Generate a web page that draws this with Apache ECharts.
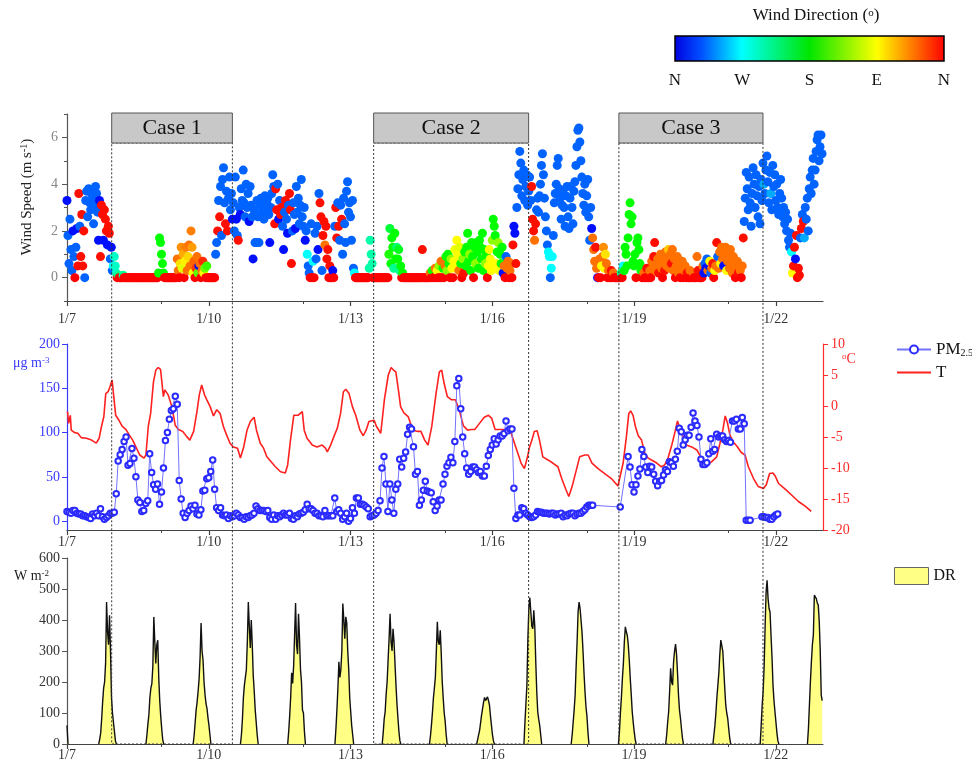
<!DOCTYPE html>
<html><head><meta charset="utf-8">
<script src="https://cdn.jsdelivr.net/npm/echarts@6/dist/echarts.min.js"></script>
<style>html,body{margin:0;padding:0;background:#fff}#c{width:972px;height:764px}</style>
</head><body><div id="c"></div>
<script>
const serif = 'Liberation Serif';

// ---- axis ticks / labels ----
const dateTicks = [0, 3, 6, 9, 12, 15];
const dateLabels = ['1/7', '1/10', '1/13', '1/16', '1/19', '1/22'];
const minorDateTicks = [2, 5, 8, 11, 14];
const directionLabels = ['N', 'W', 'S', 'E', 'N'];

// ---- episodes (days since 1/7 00:00) ----
const caseNames = ['Case 1', 'Case 2', 'Case 3'];
const caseStart = [0.946, 6.49, 11.68];
const caseEnd = [3.50, 9.77, 14.73];

// ---- wind: 30-min samples from 1/7 00:00 (speed m/s, direction deg) ----
const windSpeed = [
// 1/7
3.3,1.8,0.6,2.5,1.2,0.3,2.0,0.9,0,1.3,2.1,0.5,3.6,2.2,0.9,2.7,0.5,2.0,0,3.3,3.7,2.6,3.8,3.2,2.9,3.6,3.4,2.3,3.1,3.9,3.6,2.8,1.6,3.3,0.9,3.1,2.7,1.6,2.9,2.5,2.0,1.4,2.2,1.9,0.8,1.3,0.3,0.5,
// 1/8
0.9,0.5,0.2,0,0.1,0,0,0,0,0.1,0,0,0,0,0,0,0,0,0,0,0,0,0,0,0,0,0,0,0,0,0,0,0,0,0,0,0,0,0,0,0,0,0,0,0,0.2,1.7,1.5,
// 1/9
1.0,0.6,0.2,0,0,0,0,0,0,0,0,0,0,0,0,0,0.8,0.3,0,0.6,1.3,0.4,1.0,0,0.7,1.3,0.3,0.9,1.4,0.5,2.0,1.3,0.2,0.7,0,0.4,0.9,0.2,0.5,0.6,0,0.3,0.7,0.2,0.4,0,0.5,0,
// 1/10
0,0,0,0,0,0,0,1.0,1.5,2.0,3.3,2.6,3.9,1.8,4.2,4.7,3.2,2.3,3.7,2.0,3.4,4.3,2.9,3.6,2.5,3.2,2.0,4.3,2.5,1.8,1.6,3.0,2.7,3.8,3.3,4.6,3.2,2.6,4.0,3.0,3.6,2.4,3.9,3.1,2.6,0.8,2.9,1.5,
// 1/11
1.5,3.3,2.6,1.5,3.1,3.4,2.8,3.3,2.5,3.5,2.9,3.2,3.4,2.7,1.5,3.0,3.6,4.4,3.9,2.3,3.8,2.9,4.0,2.5,3.3,2.7,3.0,2.2,1.2,2.8,3.3,2.5,1.9,3.1,3.6,2.9,0.6,2.0,3.2,2.7,2.1,3.9,2.8,3.4,2.3,3.1,4.2,2.6,
// 1/12
2.2,3.0,1.6,2.0,1.0,0.5,0.2,0,2.3,0,0.7,0,1.9,0.8,2.2,1.2,3.6,3.2,2.6,0.3,1.8,2.4,1.4,2.2,0.8,1.2,0,0.5,0,0,0.3,0,2.2,3.0,1.7,3.2,2.2,1.6,3.1,2.5,1.0,3.4,2.3,1.5,3.7,4.1,2.8,3.2,
// 1/13
2.6,1.6,3.3,0.4,0.2,0,0,0,0,0,0,0,0,0,0,0,0,0,0,0.4,1.6,1.0,0.6,0,0,0,0,0,0,0,0,0,0,0,0,0,0,0,0,1.0,2.1,0.6,1.7,1.3,0.4,1.9,0.8,1.3,
// 1/14
0.8,1.2,0.3,0.5,0,0.2,0,0,0,0,0,0,0,0,0,0,0,0,0,0,0,0,0,0,0,1.2,0,0,0,0,0,0,0,0.2,0,0.3,0,0,0.4,0,0.3,0,0.5,0,0.7,0,0.4,0,
// 1/15
0.5,0.9,0.3,1.0,0.6,0,0.8,0.4,0,0.7,1.2,0.5,1.6,1.0,0.3,1.3,0.6,0,0.8,0.2,1.1,0.5,1.3,1.9,0.7,1.0,0.3,1.5,0.9,0,1.3,0.6,1.5,1.1,0.4,1.6,1.3,0.8,1.9,0.3,1.2,0.6,1.0,0,0.5,1.2,0.8,0.3,
// 1/16
1.6,2.5,2.2,1.8,0.6,1.1,1.5,0.3,1.0,0.6,1.3,0.2,0.5,0,0.9,0.4,0.7,0,0.3,0.6,0,1.4,2.2,1.9,0.6,3.0,3.8,4.4,5.4,4.9,3.5,4.2,4.6,3.3,3.9,4.4,3.1,3.7,4.3,3.3,3.9,2.5,2.0,1.6,2.3,2.9,3.4,2.8,
// 1/17
3.5,4.0,4.8,5.3,4.4,3.4,2.6,2.0,1.4,1.1,0.9,0,0.4,0.9,1.8,3.2,3.6,4.0,4.8,5.1,3.8,3.4,2.5,3.1,3.6,3.0,2.2,3.5,3.9,2.6,2.1,3.4,3.9,3.0,2.3,3.7,4.1,4.8,5.6,6.3,6.4,5.8,5.0,4.3,3.6,3.1,4.0,2.8,
// 1/18
3.5,4.2,2.6,1.6,3.0,2.1,1.7,1.2,0.7,1.3,0.4,0,0,0.8,0,0.5,0.9,1.3,0.4,1.0,0.6,0,0.3,0,0,0.3,0,0.2,0,0,0,0,0,0,0,0.2,0,0.5,0.3,1.3,1.0,0.5,1.7,2.7,3.2,2.3,2.6,0.7,
// 1/19
0.5,1.0,0,1.5,1.7,1.2,0.6,0.3,0,0,0.2,0,0,0.4,0,0,0.3,0,0.7,0.4,0.9,1.5,0.3,0.5,0.8,0.2,0.6,1.0,0.4,0,0.7,0.3,1.1,0.5,0.8,1.2,0.4,1.0,0.6,1.2,0.3,0.8,0,0.5,0.9,0.2,0.6,0,
// 1/20
0.4,0.7,0,0.3,0.5,0,0.2,0,0,0.3,0,0,0.2,0,0,0,0.9,0.3,0,0,0,0,0.5,0.2,0.6,0.4,0.8,0.3,0.5,0.7,0.2,0.4,0.6,0,0.3,0.5,1.5,0.9,0.4,1.1,0.6,1.3,0.8,0.5,1.0,1.3,0.3,0.7,
// 1/21
1.0,0.4,1.2,0.6,0.2,0.9,0.5,0,0.3,0.7,0.2,0.5,0.3,0,0.5,1.7,2.4,3.4,4.5,3.8,2.9,4.3,3.2,2.2,3.6,4.7,4.0,3.0,4.4,3.5,2.6,3.9,2.3,4.2,3.3,4.9,4.0,3.6,4.6,5.2,4.1,3.2,4.5,3.6,2.9,4.8,3.9,4.4,
// 1/22
3.3,4.0,3.0,2.7,3.6,4.2,3.4,2.6,3.0,2.3,2.8,2.0,2.5,1.6,1.3,1.9,1.1,0.2,0.5,1.3,0.8,1.8,0,0.4,0.1,1.7,2.1,2.7,2.4,1.7,3.0,2.5,3.4,2.0,3.8,4.3,3.6,4.6,5.1,4.0,4.6,5.4,5.9,6.1,5.0,5.6,6.1,5.3
];
const windDir = [
// 1/7
355,325,325,325,325,325,355,325,0,325,355,5,5,325,5,5,5,5,325,325,325,325,325,325,325,325,325,325,325,325,325,325,355,355,5,5,5,355,5,5,5,355,5,5,325,355,325,270,
// 1/8
250,250,250,0,230,0,0,0,0,230,0,0,0,0,0,0,0,0,0,0,0,0,0,0,0,0,0,0,0,0,0,0,0,0,0,0,0,0,0,0,0,0,0,0,0,180,180,180,
// 1/9
180,180,180,0,0,0,0,0,0,0,0,0,0,0,0,0,40,40,0,80,50,100,60,0,85,45,40,75,40,40,45,55,90,35,0,20,40,150,355,40,0,40,15,90,140,0,160,0,
// 1/10
0,0,0,0,0,0,0,325,325,5,325,5,325,325,325,325,325,5,325,5,325,325,325,325,355,325,325,325,355,325,5,325,355,325,325,325,325,325,325,325,325,355,325,325,325,355,325,325,
// 1/11
325,325,325,325,325,325,325,325,325,325,325,325,325,325,355,325,325,325,325,5,5,5,325,355,325,5,5,325,355,325,5,325,355,325,5,5,5,325,325,325,355,325,325,325,325,325,325,325,
// 1/12
325,325,355,325,270,325,325,0,325,0,270,0,325,325,325,355,325,5,5,325,5,5,40,5,5,5,0,5,0,0,355,0,325,5,5,325,5,325,325,5,325,325,325,325,325,325,325,325,
// 1/13
325,325,325,325,270,0,0,0,0,0,0,0,0,0,0,0,0,0,0,240,240,240,240,0,0,0,0,0,0,0,0,0,0,0,0,0,0,0,0,170,200,180,180,180,230,180,180,220,
// 1/14
180,190,230,180,0,180,0,0,0,0,0,0,0,0,0,0,0,0,0,0,0,0,0,0,0,5,0,0,0,0,0,0,0,40,0,180,0,0,40,0,90,0,130,0,40,0,180,0,
// 1/15
40,180,130,180,180,0,130,90,0,90,95,90,90,90,40,100,180,0,130,5,180,180,180,180,180,130,180,180,180,0,180,130,180,180,180,180,180,180,180,180,180,130,180,0,90,90,90,90,
// 1/16
130,180,180,180,90,180,130,90,180,180,180,355,40,0,325,40,40,0,40,40,0,5,355,355,5,325,325,325,325,325,325,325,325,325,325,325,325,325,325,325,5,5,5,40,5,325,325,325,
// 1/17
325,325,325,325,325,325,325,325,325,270,270,325,270,270,325,325,325,325,325,325,325,325,325,325,325,325,325,325,325,325,325,325,325,325,325,325,325,325,325,325,325,325,325,325,325,325,325,325,
// 1/18
325,325,325,325,325,355,40,40,40,5,40,355,0,40,0,90,40,50,90,80,40,0,40,0,0,5,0,40,0,0,0,0,0,0,0,230,0,270,180,180,180,180,180,180,180,180,180,180,
// 1/19
180,180,0,180,180,180,180,180,0,0,40,0,0,5,0,0,40,0,40,40,5,5,40,40,40,5,40,40,40,0,40,5,40,40,40,70,40,40,5,40,40,40,0,40,40,40,40,0,
// 1/20
40,40,0,40,40,0,5,0,0,40,0,0,40,0,0,0,40,5,0,0,0,0,40,355,325,355,325,40,355,90,325,40,5,0,90,40,5,325,40,40,90,40,40,355,40,40,90,40,
// 1/21
40,40,40,40,40,40,40,0,40,40,5,40,40,0,40,5,325,325,325,325,325,325,325,325,325,325,325,325,325,325,325,325,325,325,325,325,300,325,325,325,325,325,325,300,325,325,325,325,
// 1/22
325,325,325,325,325,325,325,325,325,325,325,325,325,325,325,325,270,90,5,5,355,5,0,5,5,325,5,325,5,300,325,325,325,325,325,325,325,325,325,325,325,325,325,325,325,325,325,325
];

// ---- PM2.5: hourly from 1/7 00:00 (ug m-3) ----
const pm25 = [
11,10,9,12,12,9,8,8,6,6,5,4,3,8,6,9,6,14,5,2,4,6,9,9,
10,31,68,75,81,90,95,63,65,82,71,50,24,21,11,12,20,23,76,55,41,36,42,19,
33,60,91,100,115,125,127,141,132,46,25,9,4,9,12,17,14,18,8,7,13,34,35,48,
49,56,69,36,15,12,15,7,6,7,3,6,5,6,9,7,4,4,2,5,4,6,7,9,
17,14,12,12,12,11,12,4,2,7,2,6,5,7,9,7,7,9,3,2,6,5,8,9,
10,13,19,14,14,12,9,9,6,6,5,12,6,6,6,6,26,11,13,9,2,5,9,0,
3,15,9,26,26,19,19,18,16,14,5,6,7,9,12,23,60,73,42,11,42,24,9,36,
42,70,61,71,78,98,106,104,84,53,56,18,24,35,45,34,33,32,22,12,17,24,24,42,
53,62,66,72,66,90,153,161,127,95,76,60,53,56,61,61,58,55,56,51,51,62,74,81,
86,93,87,92,96,96,99,113,102,104,104,37,3,7,7,15,14,9,7,5,4,5,7,11,
10,10,9,9,9,8,9,9,7,8,8,9,5,7,6,8,9,9,6,8,9,9,11,13,
16,18,18,18,null,null,null,null,null,null,null,null,null,null,null,null,null,16,null,null,null,73,61,41,
33,41,51,59,81,73,61,55,62,61,53,45,40,45,46,52,58,56,67,66,62,70,79,105,
101,86,92,97,97,106,122,113,108,95,70,64,64,66,76,93,79,81,98,95,96,96,92,90,
91,89,113,113,115,104,104,117,110,1,1,1,null,null,null,null,null,5,5,4,4,2,2,5,
7,8
];

// ---- Temperature (deg C): [day since 1/7, value] ----
const tempPoints = [
[0.01,-0.9],[0.035,-2.8],[0.07,-1.5],[0.09,-3.9],[0.16,-4.3],[0.23,-4.4],[0.30,-5.1],[0.41,-5.2],[0.52,-5.5],[0.62,-6.0],[0.68,-5.2],[0.73,-3.3],[0.78,-1.7],[0.82,2.0],[0.87,2.3],[0.91,3.1],[0.955,4.2],[0.99,1.5],[1.03,-1.5],[1.10,-2.3],[1.17,-3.3],[1.25,-3.8],[1.32,-4.7],[1.39,-5.5],[1.47,-6.8],[1.54,-7.9],[1.63,-8.4],[1.67,-7.9],[1.72,-3.3],[1.77,-1.2],[1.83,3.9],[1.88,5.8],[1.93,6.2],[1.98,5.9],[2.04,1.5],[2.07,2.6],[2.14,1.8],[2.22,-0.1],[2.29,-3.1],[2.36,-3.8],[2.45,-4.1],[2.53,-4.9],[2.60,-5.5],[2.68,-4.1],[2.75,-0.9],[2.80,1.8],[2.85,3.4],[2.91,1.8],[2.96,1.0],[3.03,-0.1],[3.10,-1.6],[3.17,-0.6],[3.24,-1.2],[3.31,-3.3],[3.38,-4.7],[3.45,-6.0],[3.52,-6.6],[3.61,-6.8],[3.67,-8.4],[3.74,-6.6],[3.81,-3.9],[3.88,-2.5],[3.96,-1.8],[4.01,-3.9],[4.09,-6.0],[4.16,-6.8],[4.23,-8.2],[4.32,-9.0],[4.41,-9.8],[4.52,-10.6],[4.62,-10.8],[4.67,-9.5],[4.73,-5.5],[4.80,-1.5],[4.89,-1.5],[4.98,-0.9],[5.02,-3.9],[5.08,-5.2],[5.19,-6.3],[5.29,-6.6],[5.40,-6.3],[5.47,-6.8],[5.51,-7.4],[5.58,-6.3],[5.65,-4.9],[5.72,-3.6],[5.79,-1.2],[5.85,2.3],[5.90,2.7],[5.97,2.0],[6.04,-0.1],[6.11,-1.5],[6.20,-3.9],[6.27,-4.8],[6.33,-3.9],[6.39,-2.5],[6.43,-2.3],[6.50,-2.3],[6.55,-3.3],[6.64,-4.4],[6.72,1.2],[6.80,5.0],[6.86,6.2],[6.91,5.8],[6.96,5.5],[7.01,2.8],[7.06,-0.1],[7.13,-1.1],[7.22,-1.7],[7.27,-2.8],[7.33,-3.9],[7.42,-4.1],[7.49,-4.1],[7.57,-5.5],[7.64,-6.3],[7.72,-3.3],[7.81,2.0],[7.88,5.5],[7.93,5.8],[7.98,3.7],[8.05,1.5],[8.14,1.0],[8.22,1.0],[8.30,-0.6],[8.39,-3.2],[8.48,-3.9],[8.55,-3.8],[8.63,-3.8],[8.73,-2.8],[8.83,-1.8],[8.92,-1.5],[8.99,-2.0],[9.06,-3.8],[9.15,-3.8],[9.24,-3.8],[9.33,-4.0],[9.38,-3.9],[9.47,-6.0],[9.54,-7.6],[9.61,-9.2],[9.68,-10.1],[9.74,-8.4],[9.79,-6.6],[9.84,-5.5],[9.89,-4.1],[9.95,-4.0],[10.0,-5.5],[10.07,-8.2],[10.18,-8.7],[10.28,-9.2],[10.39,-9.8],[10.47,-11.7],[10.55,-13.3],[10.62,-14.6],[10.69,-13.0],[10.78,-10.3],[10.85,-8.2],[10.96,-7.9],[11.03,-7.9],[11.11,-9.2],[11.24,-10.1],[11.38,-10.9],[11.52,-11.7],[11.66,-12.9],[11.70,-12.9],[11.77,-9.2],[11.84,-4.9],[11.89,-1.2],[11.93,-0.8],[11.98,-1.5],[12.03,-3.3],[12.09,-4.8],[12.16,-5.5],[12.23,-7.6],[12.30,-8.4],[12.37,-8.7],[12.48,-9.2],[12.58,-9.8],[12.65,-9.5],[12.72,-8.4],[12.80,-6.3],[12.87,-4.1],[12.92,-2.4],[12.97,-3.6],[13.04,-4.9],[13.11,-6.3],[13.22,-6.6],[13.33,-7.1],[13.43,-8.4],[13.52,-9.2],[13.57,-9.4],[13.64,-9.0],[13.75,-8.2],[13.82,-6.0],[13.88,-3.9],[13.93,-1.6],[13.98,-2.8],[14.03,-4.7],[14.10,-5.8],[14.18,-6.5],[14.27,-7.5],[14.35,-7.9],[14.42,-9.8],[14.53,-11.7],[14.63,-13.0],[14.74,-13.3],[14.80,-12.7],[14.87,-10.9],[14.94,-10.8],[14.99,-11.3],[15.06,-12.5],[15.20,-13.4],[15.34,-14.4],[15.48,-15.4],[15.63,-16.2],[15.75,-17.0]
];

// ---- DR (W m-2): daily bursts, 30-min samples starting 16:06 each day ----
const drFirstTail = [60, 0];
const drStartHour = 16.1;
const drPeaks = [
[0,15,35,80,136,180,200,260,458,362,320,415,300,150,100,70,40,10,0],
[0,30,65,95,150,180,195,250,410,330,260,320,335,215,140,90,50,15,0],
[0,30,70,110,136,170,210,280,390,300,270,200,160,130,115,85,60,30,0],
[0,30,80,150,190,215,240,330,458,380,310,400,320,220,170,110,70,30,0],
[0,40,90,150,230,195,250,350,455,320,290,420,340,240,200,110,100,40,0],
[0,50,110,180,265,215,240,300,453,400,340,410,390,300,240,150,104,60,30,0],
[0,35,80,104,160,200,270,340,420,330,300,372,330,260,190,130,83,40,10,0],
[0,25,60,100,147,180,215,300,394,330,320,367,290,200,147,100,72,30,0],
[0,15,30,45,70,95,115,135,150,140,145,152,140,125,90,60,30,10,0],
[0,70,130,190,340,440,472,426,380,372,431,380,265,170,104,80,60,30,0],
[0,30,70,110,158,250,330,426,458,437,400,360,300,230,170,120,90,40,0],
[0,40,100,150,211,260,330,378,362,350,319,270,211,160,104,70,40,15,0],
[0,30,70,104,170,244,200,190,265,300,322,290,230,158,110,83,50,20,0],
[0,30,60,100,150,190,230,290,335,338,300,240,180,126,100,83,50,20,0],
[0,60,126,170,250,380,490,528,469,437,426,350,280,190,140,104,70,35,10,0],
[0,50,126,200,265,320,351,480,475,469,455,448,394,300,158,140]
];

// ---- build series data ----
const windData = windSpeed.map((s, i) => [i / 48, s, windDir[i]]);
const pmData = pm25.map((v, i) => [i / 24, v]);
const drData = [];
drFirstTail.forEach((v, k) => drData.push([k / 48, v]));
drData.push([drFirstTail.length / 48, null]);
drPeaks.forEach((arr, d) => {
  const s = d + drStartHour / 24;
  arr.forEach((v, k) => drData.push([s + k / 48, v]));
  drData.push([s + arr.length / 48, null]);
});

const chart = echarts.init(document.getElementById('c'));

function mainX(gi, margin) {
  return {type: 'value', gridIndex: gi, position: 'bottom', min: 0, max: 16,
    axisLine: {show: true, onZero: false, lineStyle: {color: '#444', width: 1.2}},
    axisTick: {show: true, length: 5, customValues: dateTicks, lineStyle: {color: '#444', width: 1.2}},
    axisLabel: {show: true, customValues: dateTicks, formatter: v => dateLabels[dateTicks.indexOf(v)],
      margin: margin, color: '#333', fontFamily: serif, fontSize: 14},
    splitLine: {show: false}};
}
function minorX(gi) {
  return {type: 'value', gridIndex: gi, position: 'bottom', min: 0, max: 16,
    axisLine: {show: false, onZero: false}, axisLabel: {show: false}, splitLine: {show: false},
    axisTick: {show: true, length: 3, customValues: minorDateTicks, lineStyle: {color: '#444'}}};
}

const option = {
  animation: false,
  backgroundColor: '#fff',
  grid: [
    {left: 67, right: 149, top: 114, height: 187},
    {left: 67, right: 149, top: 344, height: 186},
    {left: 67, right: 149, top: 558, height: 186}
  ],
  xAxis: [mainX(0, 11), minorX(0), mainX(1, 5), minorX(1), mainX(2, 4), minorX(2)],
  yAxis: [
    {type: 'value', gridIndex: 0, position: 'left', min: -1, max: 7,
      axisLine: {show: true, onZero: false, lineStyle: {color: '#555', width: 1.2}},
      axisTick: {show: true, length: 5, customValues: [0, 2, 4, 6], lineStyle: {color: '#555'}},
      axisLabel: {customValues: [0, 2, 4, 6], color: '#888', fontFamily: serif, fontSize: 14, margin: 9},
      splitLine: {show: false}},
    {type: 'value', gridIndex: 0, position: 'left', min: -1, max: 7,
      axisLine: {show: false, onZero: false}, axisLabel: {show: false}, splitLine: {show: false},
      axisTick: {show: true, length: 3, customValues: [-1, 1, 3, 5, 7], lineStyle: {color: '#555'}}},
    {type: 'value', gridIndex: 1, position: 'left', min: -10, max: 200,
      axisLine: {show: true, onZero: false, lineStyle: {color: '#3a3aff', width: 1.2}},
      axisTick: {show: true, length: 5, customValues: [0, 50, 100, 150, 200], lineStyle: {color: '#3a3aff'}},
      axisLabel: {customValues: [0, 50, 100, 150, 200], color: '#3a3aff', fontFamily: serif, fontSize: 14, margin: 7},
      splitLine: {show: false}},
    {type: 'value', gridIndex: 1, position: 'right', min: -20, max: 10, interval: 5,
      axisLine: {show: true, onZero: false, lineStyle: {color: '#ff2a2a', width: 1.2}},
      axisTick: {show: true, length: 5, lineStyle: {color: '#ff2a2a'}},
      axisLabel: {color: '#ff2a2a', fontFamily: serif, fontSize: 14, margin: 8},
      splitLine: {show: false}},
    {type: 'value', gridIndex: 2, position: 'left', min: 0, max: 600, interval: 100,
      axisLine: {show: true, onZero: false, lineStyle: {color: '#555', width: 1.2}},
      axisTick: {show: true, length: 5, lineStyle: {color: '#555'}},
      axisLabel: {color: '#333', fontFamily: serif, fontSize: 14, margin: 7},
      splitLine: {show: false}}
  ],
  visualMap: {show: false, type: 'continuous', min: 0, max: 360, dimension: 2, seriesIndex: 0,
    inRange: {color: ['#ff0000', '#ffff00', '#00ff00', '#00ffff', '#0000ff']}},
  legend: [
    {data: ['PM2.5', {name: 'T', itemStyle: {opacity: 0}}], orient: 'vertical', left: 891, top: 336,
      itemWidth: 34, itemHeight: 10, itemGap: 6, selectedMode: false,
      formatter: n => n === 'PM2.5' ? '{m|PM}{s|2.5}' : '{m|T}',
      textStyle: {fontFamily: serif, fontSize: 17, color: '#111',
        rich: {m: {fontFamily: serif, fontSize: 17, color: '#111'}, s: {fontFamily: serif, fontSize: 10, color: '#111', verticalAlign: 'bottom'}}}},
    {data: [{name: 'DR', icon: 'rect', itemStyle: {color: '#ffff85', borderColor: '#666', borderWidth: 1}}],
      left: 889, top: 562, itemWidth: 34, itemHeight: 17, selectedMode: false,
      textStyle: {fontFamily: serif, fontSize: 16, color: '#111'}}
  ],
  series: [
    {type: 'scatter', xAxisIndex: 0, yAxisIndex: 0, data: windData, symbolSize: 9, itemStyle: {opacity: 1}},
    {name: 'T', type: 'line', xAxisIndex: 2, yAxisIndex: 3, data: tempPoints, symbol: 'none',
      lineStyle: {color: '#ff2020', width: 1.6}, itemStyle: {color: '#ff2020'}},
    {name: 'PM2.5', type: 'line', xAxisIndex: 2, yAxisIndex: 2, data: pmData, connectNulls: true,
      symbol: 'emptyCircle', symbolSize: 5.5, showAllSymbol: true,
      lineStyle: {color: '#7373ff', width: 1}, itemStyle: {color: '#2b2bff', borderWidth: 1.3}},
    {name: 'DR', type: 'line', xAxisIndex: 4, yAxisIndex: 4, data: drData, symbol: 'none',
      lineStyle: {color: '#111', width: 1.4}, areaStyle: {color: '#ffff85', opacity: 1}, itemStyle: {color: '#ffff85'}}
  ]
};
chart.setOption(option);

// ---- annotations ----
const g = [];
const cbX = 675, cbY = 36, cbW = 269, cbH = 25;
g.push({type: 'rect', shape: {x: cbX, y: cbY, width: cbW, height: cbH},
  style: {fill: {type: 'linear', x: 0, y: 0, x2: 1, y2: 0, colorStops: [
    {offset: 0, color: '#0000e0'}, {offset: 0.1, color: '#0050ff'}, {offset: 0.25, color: '#00ffff'},
    {offset: 0.5, color: '#00e600'}, {offset: 0.75, color: '#ffff00'}, {offset: 1, color: '#ff0000'}]},
    stroke: '#000', lineWidth: 1.5}});
directionLabels.forEach((t, k) => g.push({type: 'text', x: cbX + k * cbW / 4, y: 81,
  style: {text: t, fontFamily: serif, fontSize: 17, fill: '#111', align: 'center', verticalAlign: 'middle'}}));
g.push({type: 'text', x: 816, y: 16, style: {text: '{t|Wind Direction (}{s|o}{t|)}', align: 'center', verticalAlign: 'middle',
  rich: {t: {fontFamily: serif, fontSize: 17, fill: '#111'}, s: {fontFamily: serif, fontSize: 11, fill: '#111', verticalAlign: 'top'}}}});
g.push({type: 'text', x: 27, y: 197, rotation: Math.PI / 2,
  style: {text: '{a|Wind Speed (m s}{s|-1}{a|)}', align: 'center', verticalAlign: 'middle',
  rich: {a: {fontFamily: serif, fontSize: 15, fill: '#222'}, s: {fontFamily: serif, fontSize: 10, fill: '#222', verticalAlign: 'top'}}}});
g.push({type: 'text', x: 13, y: 363, style: {text: '{a|μg m}{s|-3}', align: 'left', verticalAlign: 'middle',
  rich: {a: {fontFamily: serif, fontSize: 14, fill: '#3a3aff'}, s: {fontFamily: serif, fontSize: 9, fill: '#3a3aff', verticalAlign: 'top'}}}});
g.push({type: 'text', x: 842, y: 359, style: {text: '{s|o}{a|C}', align: 'left', verticalAlign: 'middle',
  rich: {a: {fontFamily: serif, fontSize: 14, fill: '#ff2a2a'}, s: {fontFamily: serif, fontSize: 9, fill: '#ff2a2a', verticalAlign: 'top'}}}});
g.push({type: 'text', x: 14, y: 576, style: {text: '{a|W m}{s|-2}', align: 'left', verticalAlign: 'middle',
  rich: {a: {fontFamily: serif, fontSize: 14, fill: '#222'}, s: {fontFamily: serif, fontSize: 9, fill: '#222', verticalAlign: 'top'}}}});

const yBottom = chart.convertToPixel({yAxisIndex: 4}, 0);
caseNames.forEach((name, i) => {
  const x0 = chart.convertToPixel({xAxisIndex: 0}, caseStart[i]);
  const x1 = chart.convertToPixel({xAxisIndex: 0}, caseEnd[i]);
  g.push({type: 'rect', z: 100, shape: {x: x0, y: 143, width: x1 - x0, height: yBottom - 143},
    style: {fill: 'none', stroke: '#333', lineWidth: 1, lineDash: [2, 2]}});
  g.push({type: 'rect', z: 101, shape: {x: x0, y: 113, width: x1 - x0, height: 30},
    style: {fill: '#c8c8c8', stroke: '#555', lineWidth: 1}});
  g.push({type: 'text', z: 102, x: (x0 + x1) / 2, y: 128,
    style: {text: name, fontFamily: serif, fontSize: 22, fill: '#111', align: 'center', verticalAlign: 'middle'}});
});
chart.setOption({graphic: g});
</script>
</body></html>
